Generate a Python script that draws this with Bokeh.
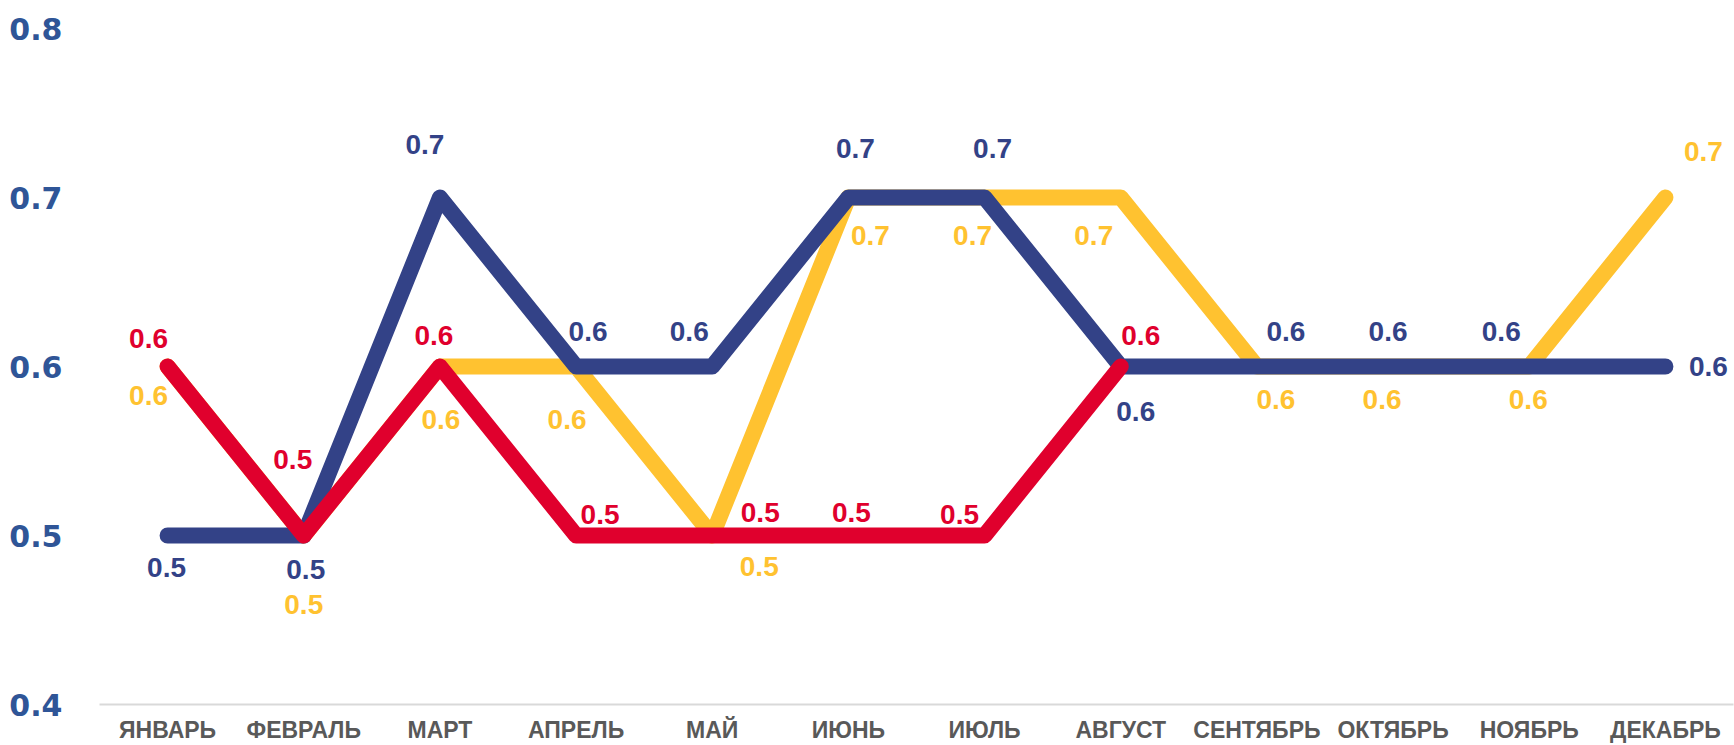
from bokeh.plotting import figure
from bokeh.models import ColumnDataSource, FactorRange, Range1d, FixedTicker
from bokeh.core.properties import value
from bokeh.embed import file_html
from bokeh.resources import INLINE

# ---- data ----
months = ["ЯНВАРЬ", "ФЕВРАЛЬ", "МАРТ", "АПРЕЛЬ", "МАЙ", "ИЮНЬ", "ИЮЛЬ",
          "АВГУСТ", "СЕНТЯБРЬ", "ОКТЯБРЬ", "НОЯБРЬ", "ДЕКАБРЬ"]
navy_vals = [0.5, 0.5, 0.7, 0.6, 0.6, 0.7, 0.7, 0.6, 0.6, 0.6, 0.6, 0.6]
yellow_vals = [0.6, 0.5, 0.6, 0.6, 0.5, 0.7, 0.7, 0.7, 0.6, 0.6, 0.6, 0.7]
red_vals = [0.6, 0.5, 0.6, 0.5, 0.5, 0.5, 0.5, 0.6]  # Jan..Aug
y_ticks = [0.4, 0.5, 0.6, 0.7, 0.8]
y_tick_labels = ["0.4", "0.5", "0.6", "0.7", "0.8"]

# ---- label placement (screen px offsets, style only) ----
navy_dx = [-1, 2, -15, 12, -23, 7, 8, 15, 29, -5, -28, 43]
navy_dy = [32, 34, -53, -35, -35, -49, -49, 45, -35, -35, -35, 0]
yellow_dx = [-19, 0, 1, -9, 47, 22, -12, -27, 19, -11, -1, 38]
yellow_dy = [29, 69, 53, 53, 31, 38, 38, 38, 33, 33, 33, -46]
red_dx = [-19, -11, -6, 24, 48, 3, -25, 20]
red_dy = [-28, -76, -31, -21, -23, -23, -21, -31]

NAVY = "#334287"
YELLOW = "#FFC230"
RED = "#E0002D"

p = figure(width=1734, height=745, x_range=FactorRange(*months, range_padding=0),
           y_range=Range1d(0.4, 0.8), output_backend="svg", toolbar_location=None,
           min_border_left=99, min_border_right=1, min_border_top=28, min_border_bottom=40)
p.outline_line_color = None
p.background_fill_color = "white"
p.border_fill_color = "white"
p.xgrid.visible = False
p.ygrid.visible = False

def src(vals, dx, dy):
    n = len(vals)
    return ColumnDataSource(dict(x=months[:n], y=vals, text=[f"{v:.1f}" for v in vals],
                                 dx=dx[:n], dy=dy[:n]))

s_y = src(yellow_vals, yellow_dx, yellow_dy)
s_n = src(navy_vals, navy_dx, navy_dy)
s_r = src(red_vals, red_dx, red_dy)

for s, c in [(s_y, YELLOW), (s_n, NAVY), (s_r, RED)]:
    p.line("x", "y", source=s, line_color=c, line_width=16,
           line_cap="round", line_join="round")

for s, c in [(s_y, YELLOW), (s_n, NAVY), (s_r, RED)]:
    p.text("x", "y", text="text", source=s, x_offset="dx", y_offset="dy",
           text_color=c, text_font=value("Liberation Sans"), text_font_style="bold",
           text_font_size="28px", text_align="center", text_baseline="middle")

# axes
p.xaxis.axis_line_color = "#D9D9D9"
p.xaxis.axis_line_width = 2
p.xaxis.major_tick_line_color = None
p.xaxis.minor_tick_line_color = None
p.xaxis.major_tick_out = 0
p.xaxis.major_tick_in = 0
p.xaxis.major_label_text_font = "Liberation Sans"
p.xaxis.major_label_text_font_style = "bold"
p.xaxis.major_label_text_font_size = "23px"
p.xaxis.major_label_text_color = "#595959"
p.xaxis.major_label_standoff = 12

p.yaxis.ticker = FixedTicker(ticks=y_ticks)
p.yaxis.major_label_overrides = {t: l for t, l in zip(y_ticks, y_tick_labels)}
p.yaxis.axis_line_color = None
p.yaxis.major_tick_line_color = None
p.yaxis.minor_tick_line_color = None
p.yaxis.major_tick_out = 0
p.yaxis.major_tick_in = 0
p.yaxis.major_label_standoff = 37
p.yaxis.major_label_text_font = "DejaVu Sans"
p.yaxis.major_label_text_font_style = "bold"
p.yaxis.major_label_text_font_size = "30px"
p.yaxis.major_label_text_color = "#2F5597"

open("out.html", "w").write(file_html(p, INLINE))
